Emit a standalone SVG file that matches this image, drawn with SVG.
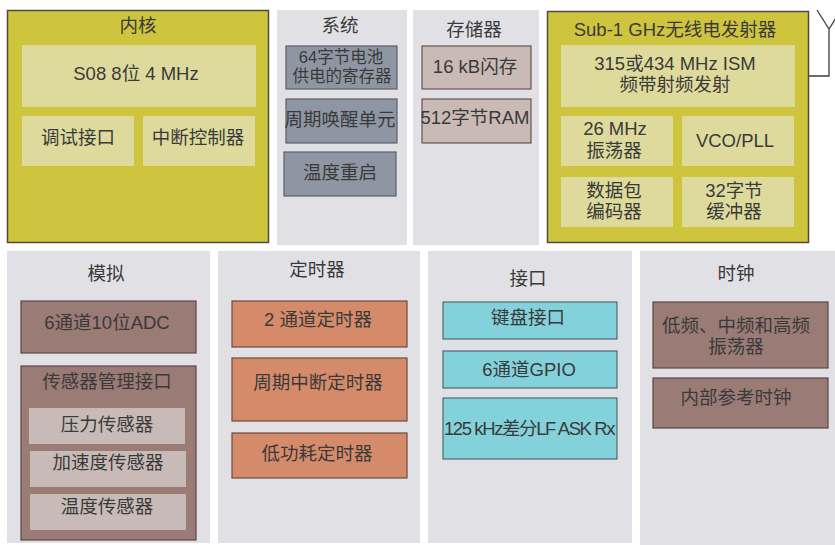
<svg xmlns="http://www.w3.org/2000/svg" width="835" height="545" viewBox="0 0 835 545">
<style>
text{font-family:"Liberation Sans","Noto Sans CJK SC",sans-serif;font-size:18.5px;fill:#3a3a3a;text-anchor:middle;dominant-baseline:central}
.sm{font-size:16.5px}
.yel{fill:#CFC43E;stroke:#4f4b3c;stroke-width:1.5}
.lt{fill:#DDDA9C}
.panel{fill:#E1E0E5}
.sys{fill:#8F96A3;stroke:#5b5f66;stroke-width:1.2}
.mem{fill:#C9BAB5;stroke:#6a5450;stroke-width:1.2}
.brn{fill:#9A7B75;stroke:#5b4844;stroke-width:1.2}
.sen{fill:#C8BAB7}
.tmr{fill:#D58B69;stroke:#6d4a3c;stroke-width:1.2}
.cyn{fill:#83D1DA;stroke:#4f6870;stroke-width:1.2}
.ant{fill:none;stroke:#3f3f3f;stroke-width:1.3}
</style>
<rect width="835" height="545" fill="#ffffff"/>

<g id="core">
<rect class="yel" x="7.5" y="10.5" width="261" height="232"/>
<text x="138" y="25">内核</text>
<rect class="lt" x="22" y="45" width="234" height="62"/>
<text x="136" y="73">S08 8位 4 MHz</text>
<rect class="lt" x="22" y="116" width="112" height="50"/>
<text x="78" y="137">调试接口</text>
<rect class="lt" x="143" y="116" width="112" height="50"/>
<text x="198" y="137">中断控制器</text>
</g>

<g id="system">
<rect class="panel" x="277" y="10" width="130" height="235"/>
<text x="340" y="25">系统</text>
<rect class="sys" x="286" y="46" width="111" height="43"/>
<text class="sm" x="341" y="57">64字节电池</text>
<text class="sm" x="342" y="76">供电的寄存器</text>
<rect class="sys" x="286" y="99" width="111" height="44"/>
<text x="340" y="119">周期唤醒单元</text>
<rect class="sys" x="284" y="152" width="112" height="44"/>
<text x="340" y="172">温度重启</text>
</g>

<g id="memory">
<rect class="panel" x="413" y="10" width="126" height="235"/>
<text x="474" y="29">存储器</text>
<rect class="mem" x="422" y="46" width="109" height="43"/>
<text x="475" y="66">16 kB闪存</text>
<rect class="mem" x="422" y="99" width="109" height="44"/>
<text x="475" y="117">512字节RAM</text>
</g>

<g id="rf">
<rect class="yel" x="547.5" y="11.5" width="261" height="231"/>
<text x="675" y="29">Sub-1 GHz无线电发射器</text>
<rect class="lt" x="561" y="45" width="234" height="62"/>
<text x="675" y="63">315或434 MHz ISM</text>
<text x="675" y="84">频带射频发射</text>
<rect class="lt" x="561" y="116" width="112" height="50"/>
<text x="615" y="128">26 MHz</text>
<text x="614" y="150">振荡器</text>
<rect class="lt" x="682" y="116" width="112" height="50"/>
<text x="735" y="140">VCO/PLL</text>
<rect class="lt" x="561" y="177" width="112" height="50"/>
<text x="614" y="190">数据包</text>
<text x="614" y="211">编码器</text>
<rect class="lt" x="682" y="177" width="112" height="50"/>
<text x="734" y="190">32字节</text>
<text x="734" y="211">缓冲器</text>
</g>

<g id="antenna">
<path class="ant" d="M809 76 H829 V29 M817 10 L829 29 L841 10"/>
</g>

<g id="analog">
<rect class="panel" x="7" y="251" width="203" height="292"/>
<text x="106" y="273">模拟</text>
<rect class="brn" x="21" y="301" width="175" height="52"/>
<text x="107" y="322">6通道10位ADC</text>
<rect class="brn" x="21" y="366" width="175" height="174"/>
<text x="107" y="381">传感器管理接口</text>
<rect class="sen" x="29" y="408" width="156" height="36"/>
<text x="107" y="424">压力传感器</text>
<rect class="sen" x="30" y="451" width="156" height="36"/>
<text x="108" y="462">加速度传感器</text>
<rect class="sen" x="30" y="494" width="156" height="36"/>
<text x="107" y="506">温度传感器</text>
</g>

<g id="timers">
<rect class="panel" x="218" y="251" width="202" height="292"/>
<text x="317" y="269">定时器</text>
<rect class="tmr" x="232" y="301" width="175" height="46"/>
<text x="318" y="319">2 通道定时器</text>
<rect class="tmr" x="232" y="358" width="175" height="63"/>
<text x="318" y="382">周期中断定时器</text>
<rect class="tmr" x="232" y="433" width="175" height="45"/>
<text x="317" y="453">低功耗定时器</text>
</g>

<g id="interface">
<rect class="panel" x="428" y="251" width="204" height="292"/>
<text x="528" y="278">接口</text>
<rect class="cyn" x="443" y="302" width="174" height="37"/>
<text x="528" y="317">键盘接口</text>
<rect class="cyn" x="443" y="351" width="174" height="37"/>
<text x="529" y="369">6通道GPIO</text>
<rect class="cyn" x="443" y="398" width="174" height="61"/>
<text x="529" y="428" style="letter-spacing:-1.4px">125 kHz差分LF ASK Rx</text>
</g>

<g id="clock">
<rect class="panel" x="640" y="251" width="197" height="294"/>
<text x="736" y="273">时钟</text>
<rect class="brn" x="653" y="302" width="175" height="66"/>
<text x="736" y="325">低频、中频和高频</text>
<text x="736" y="346">振荡器</text>
<rect class="brn" x="653" y="378" width="175" height="50"/>
<text x="736" y="397">内部参考时钟</text>
</g>

<g id="connectors"></g>
</svg>
